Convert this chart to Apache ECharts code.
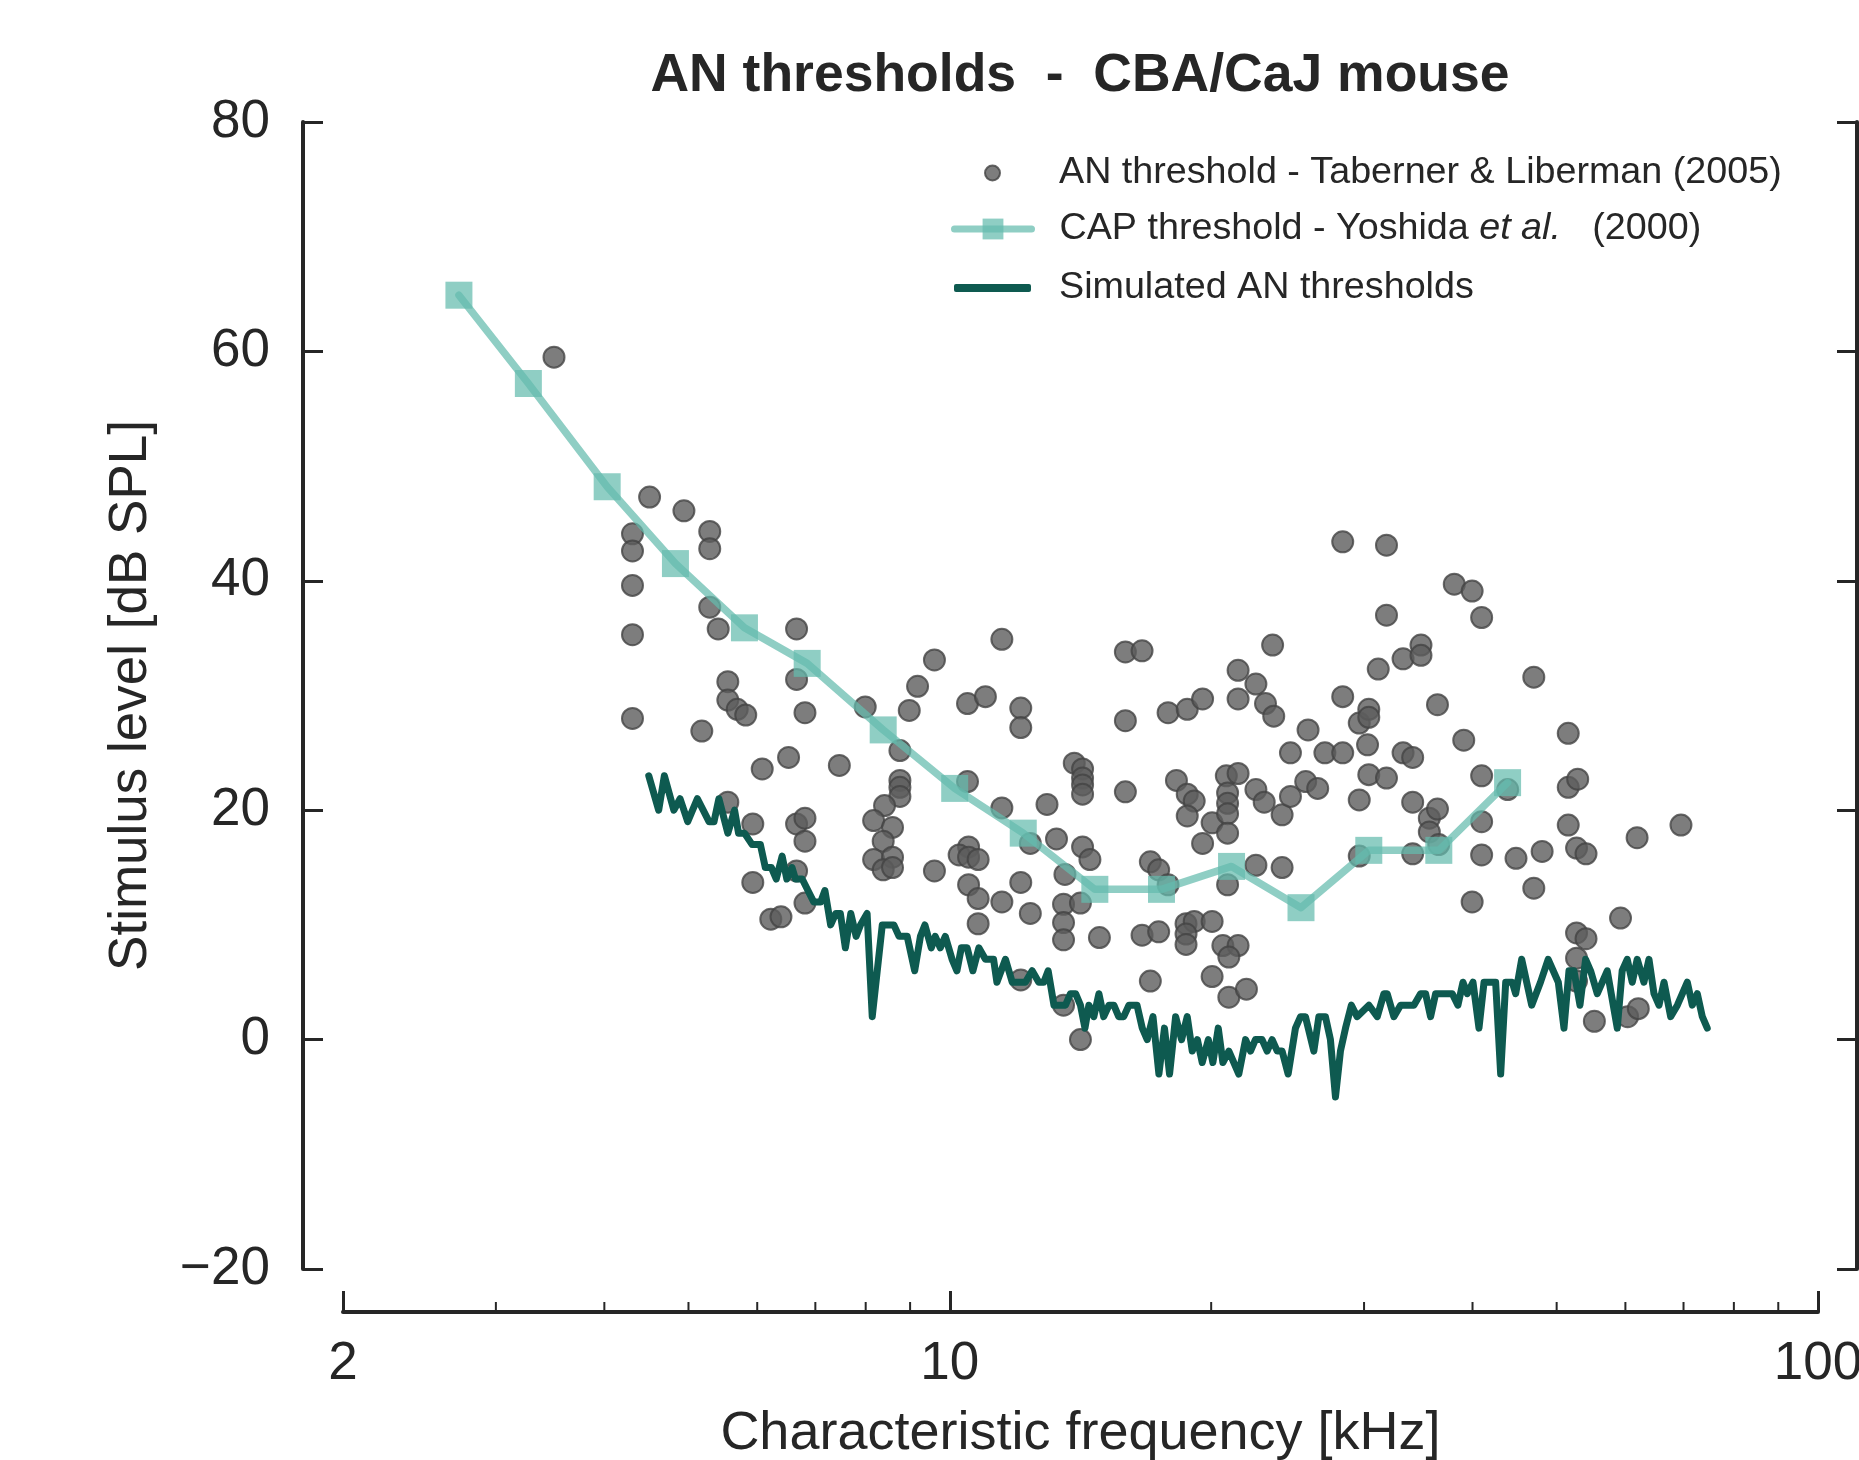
<!DOCTYPE html>
<html><head><meta charset="utf-8">
<script src="https://cdn.jsdelivr.net/npm/echarts@6/dist/echarts.min.js"></script>
<style>html,body{margin:0;padding:0;background:#fff}#c{width:1859px;height:1460px}</style>
</head><body><div id="c"></div>
<script>
const FONT = '"Liberation Sans", Arial, Helvetica, sans-serif';
const INK = '#262626';

const AN_NAME = 'AN threshold - Taberner & Liberman (2005)';
const CAP_NAME = 'CAP threshold - Yoshida et al.  (2000)';
const SIM_NAME = 'Simulated AN thresholds';

// AN thresholds (Taberner & Liberman 2005): CF [kHz], threshold [dB SPL]
const anFreq = [3.50,4.51,4.94,4.31,4.31,5.29,5.29,4.31,4.31,4.31,5.29,5.41,5.18,5.55,5.55,5.69,5.82,6.66,6.66,6.81,
6.52,6.08,5.55,5.93,5.93,6.22,6.39,6.66,6.81,6.81,6.66,6.81,7.46,7.99,9.18,9.60,8.98,8.76,8.76,8.76,
8.76,8.41,8.17,8.59,8.38,8.17,8.59,8.38,8.59,9.60,10.48,10.99,11.48,12.07,12.07,10.48,11.48,12.94,10.51,10.25,
10.51,10.78,10.51,10.78,10.78,11.48,12.07,12.38,12.07,12.38,13.27,13.91,14.22,14.22,14.22,14.22,13.57,13.52,14.14,13.52,
13.52,14.22,14.50,13.52,14.14,14.87,15.93,16.65,15.93,15.93,17.02,17.40,17.84,16.65,17.40,17.02,17.84,18.77,19.55,18.24,
18.77,19.12,18.77,19.55,20.05,18.71,19.12,20.05,18.71,18.71,20.05,20.63,21.48,20.96,20.96,21.96,20.82,21.48,20.89,20.89,
20.89,20.89,20.89,21.48,21.48,22.52,23.10,23.61,23.54,22.52,23.02,24.14,24.68,22.52,24.14,24.68,25.86,25.70,26.53,27.04,
28.35,28.35,28.35,29.62,29.62,30.38,30.38,30.28,30.38,29.62,31.15,31.84,31.84,31.84,33.27,33.27,34.13,34.89,34.89,34.13,
35.67,36.45,35.67,34.13,36.45,36.57,38.11,39.96,40.98,39.08,40.98,40.98,40.98,39.96,43.91,47.06,44.89,48.11,47.06,51.56,
51.56,52.87,51.56,52.71,54.05,52.71,54.05,52.71,52.71,55.26,59.23,61.89,60.36,62.09,69.53];
const anLevel = [59.5,47.3,46.1,44.1,42.6,44.3,42.8,39.6,35.3,28.0,37.7,35.8,26.9,31.2,29.6,28.8,28.3,35.8,31.4,28.5,
24.6,23.6,20.7,18.8,13.7,10.5,10.7,18.8,19.3,17.3,14.7,11.9,23.9,29.0,30.8,33.1,28.7,25.2,22.6,22.0,
21.2,20.4,19.1,18.5,17.3,15.7,15.9,14.8,15.0,14.7,29.3,29.9,34.9,28.9,27.2,22.5,20.2,20.5,16.8,16.1,
15.9,15.7,13.5,12.3,10.1,12.0,13.7,11.0,5.2,17.1,17.5,24.1,23.6,22.8,22.2,21.4,14.4,11.8,11.9,10.2,
8.7,16.8,15.7,3.0,0.0,8.9,33.8,33.9,27.8,21.6,15.5,14.8,13.5,9.1,9.4,5.1,28.5,28.8,29.7,22.6,
21.4,20.8,19.5,17.1,18.9,10.1,10.3,10.3,9.2,8.3,5.5,8.2,8.2,7.2,3.7,4.4,23.0,23.2,21.5,20.6,
19.7,18.0,13.5,32.2,29.7,31.0,29.3,28.2,34.4,21.8,20.7,19.6,21.2,15.2,15.0,25.0,27.0,22.5,21.9,25.0,
25.0,43.4,29.9,20.9,27.6,28.8,28.1,25.7,23.1,16.0,32.3,43.1,37.0,22.8,33.2,25.0,24.6,34.4,33.5,20.7,
19.3,20.1,18.1,16.2,29.2,17.0,39.7,39.1,36.8,26.1,23.0,19.0,16.1,12.0,21.8,31.6,15.8,16.4,13.2,26.7,
22.0,22.7,18.7,16.7,16.2,9.3,8.8,7.1,5.1,1.6,10.6,17.6,2.0,2.7,18.7];

// CAP thresholds (Yoshida et al. 2000)
const capFreq = [2.72,3.27,4.03,4.83,5.80,6.85,8.38,10.13,12.15,14.69,17.53,21.11,25.38,30.38,36.58,43.9];
const capLevel = [64.9,57.2,48.2,41.5,35.9,32.8,27.0,21.9,18.0,13.1,13.1,15.1,11.5,16.5,16.5,22.4];

// Simulated AN thresholds
const simFreq = [4.50,4.62,4.69,4.81,4.89,4.99,5.12,5.28,5.35,5.42,5.55,5.65,5.71,5.80,5.92,6.05,6.13,6.23,6.31,6.41,
6.49,6.58,6.64,6.76,6.97,7.10,7.18,7.29,7.39,7.48,7.58,7.69,7.80,7.89,8.03,8.14,8.36,8.62,8.74,8.93,
9.11,9.25,9.36,9.52,9.62,9.75,9.88,10.06,10.19,10.31,10.47,10.63,10.80,10.99,11.23,11.33,
11.59,11.80,12.06,12.22,12.44,12.66,12.83,12.98,13.18,13.59,13.77,13.96,14.14,14.31,14.46,14.65,14.85,15.04,15.25,15.45,
15.65,15.86,16.08,16.43,16.66,16.88,17.14,17.41,17.67,17.91,18.20,18.49,18.77,19.02,19.28,19.53,19.85,20.09,20.38,20.63,
20.96,21.52,21.91,22.20,22.49,22.89,23.20,23.51,23.83,24.14,24.53,25.01,25.35,25.68,26.26,26.61,27.08,27.44,27.81,28.18,
28.56,29.01,29.45,
30.39,31.07,31.62,31.90,32.47,33.05,34.24,34.85,35.32,35.79,36.27,37.91,38.48,39.00,39.45,40.05,40.69,41.24,42.53,43.10,
43.68,44.45,44.85,45.57,46.80,47.90,48.89,50.22,50.98,51.66,52.35,53.19,53.99,54.71,55.69,57.18,58.72,59.49,60.29,61.10,
61.91,63.02,63.87,64.73,65.59,66.47,67.65,68.87,70.71,71.65,72.61,73.58,74.55];
const simLevel = [23,20,23,20,21,19,21,19,19,21,18,20,18,18,17,17,15,15,14,16,
14,15,14,14,12,12,13,10,11,11,8,11,9,10,11,2,10,10,9,9,
6,9,10,8,9,8,9,7,6,8,8,6,8,7,7,5,
7,5,5,5,6,5,5,6,3,3,4,4,3,1,3,2,4,2,3,3,
2,2,3,3,1,0,2,-3,1,-3,2,0,2,-1,0,-2,0,-2,1,-2,
-1,-3,0,-1,0,0,-1,0,-1,-1,-3,1,2,2,-1,2,2,0,-5,-1,
1,3,2,
3,2,4,4,2,3,3,4,4,2,4,4,3,5,4,5,1,5,5,-3,
5,5,4,7,3,5,7,5,1,6,6,3,7,6,4,6,1,6,7,5,
7,5,7,4,3,5,2,3,5,3,4,2,1];

const xMajorTicks = [2, 10, 100];
const xMinorTicks = [3, 4, 5, 6, 7, 8, 9, 20, 30, 40, 50, 60, 70, 80, 90];

const X_OFFSET = 43;
const CAP_COLOR = 'rgb(100,187,173)';

const chart = echarts.init(document.getElementById('c'), null, {renderer: 'canvas'});

const legendBase = {
  orient: 'vertical', padding: 0, itemWidth: 77, selectedMode: false,
  textStyle: {fontFamily: FONT, fontSize: 37.7, color: INK, padding: [0, 0, 0, 23],
    rich: {i: {fontFamily: FONT, fontSize: 37.7, color: INK, fontStyle: 'italic'}}}
};

const option = {
  animation: false,
  backgroundColor: '#ffffff',
  title: {
    text: 'AN thresholds  -  CBA/CaJ mouse', left: 1075, top: 44, textAlign: 'center',
    textStyle: {fontFamily: FONT, fontSize: 53.5, fontWeight: 'bold', color: INK}
  },
  legend: [
    Object.assign({}, legendBase, {left: 984, top: 154, itemHeight: 15,
      data: [{name: AN_NAME, icon: 'circle'}]}),
    Object.assign({}, legendBase, {left: 951, top: 210, itemHeight: 26,
      lineStyle: {width: 7, opacity: 0.72}, itemStyle: {opacity: 0.72},
      data: [CAP_NAME],
      formatter: () => 'CAP threshold - Yoshida {i|et al.}   (2000)'}),
    Object.assign({}, legendBase, {left: 954, top: 269, itemHeight: 8,
      data: [{name: SIM_NAME, icon: 'roundRect'}]})
  ],
  grid: {left: 343, right: 41, top: 122, bottom: 191, containLabel: false, outerBoundsMode: 'none'},
  xAxis: {
    type: 'log', logBase: 10, min: 2, max: 100, position: 'bottom', offset: X_OFFSET,
    name: 'Characteristic frequency [kHz]', nameLocation: 'middle', nameGap: 95,
    nameTextStyle: {fontFamily: FONT, fontSize: 54, color: INK},
    axisLine: {show: true, onZero: false, lineStyle: {color: INK, width: 4}},
    axisTick: {show: true, inside: true, length: 21, lineStyle: {color: INK, width: 3}},
    axisLabel: {fontFamily: FONT, fontSize: 53, color: INK, margin: 26,
      formatter: v => String(Math.round(v))},
    splitLine: {show: false}, minorTick: {show: false}
  },
  yAxis: [
    {
      type: 'value', min: -20, max: 80, interval: 20, position: 'left', offset: 40,
      name: 'Stimulus level [dB SPL]', nameLocation: 'middle', nameGap: 145,
      nameTextStyle: {fontFamily: FONT, fontSize: 53, color: INK},
      axisLine: {show: true, onZero: false, lineStyle: {color: INK, width: 4}},
      axisTick: {show: true, inside: true, length: 20, lineStyle: {color: INK, width: 3}},
      axisLabel: {fontFamily: FONT, fontSize: 53, color: INK, margin: 33,
        formatter: v => v < 0 ? '\u2212' + Math.abs(v) : String(v)},
      splitLine: {show: false}
    },
    {
      type: 'value', min: -20, max: 80, interval: 20, position: 'right', offset: 39,
      axisLine: {show: true, onZero: false, lineStyle: {color: INK, width: 4}},
      axisTick: {show: true, inside: true, length: 20, lineStyle: {color: INK, width: 3}},
      axisLabel: {show: false}, splitLine: {show: false}
    }
  ],
  series: [
    {
      name: AN_NAME, type: 'scatter', z: 2,
      data: anFreq.map((f, i) => [f, anLevel[i]]),
      symbol: 'circle', symbolSize: 21,
      itemStyle: {color: '#5c5c5c', borderColor: '#434343', borderWidth: 2}
    },
    {
      name: SIM_NAME, type: 'line', z: 4, symbol: 'none', showSymbol: false,
      data: simFreq.map((f, i) => [f, simLevel[i]]),
      lineStyle: {color: '#0e5a50', width: 7, cap: 'round', join: 'round'},
      itemStyle: {color: '#0e5a50'}
    },
    {
      name: CAP_NAME, type: 'line', z: 5, symbol: 'rect', symbolSize: 27,
      data: capFreq.map((f, i) => [f, capLevel[i]]),
      lineStyle: {color: CAP_COLOR, width: 7.5, opacity: 0.72, cap: 'round', join: 'round'},
      itemStyle: {color: CAP_COLOR, opacity: 0.72, borderWidth: 0}
    }
  ]
};
chart.setOption(option);

// minor ticks on the log axis, positioned through the axis scale
const yBase = chart.convertToPixel({yAxisIndex: 0}, -20) + X_OFFSET;
const graphics = xMinorTicks.map(v => {
  const x = chart.convertToPixel({xAxisIndex: 0}, v);
  return {type: 'line', shape: {x1: x, y1: yBase, x2: x, y2: yBase - 10},
    style: {stroke: INK, lineWidth: 2}, z: 10};
});
chart.setOption({graphic: graphics});
</script>
</body></html>
